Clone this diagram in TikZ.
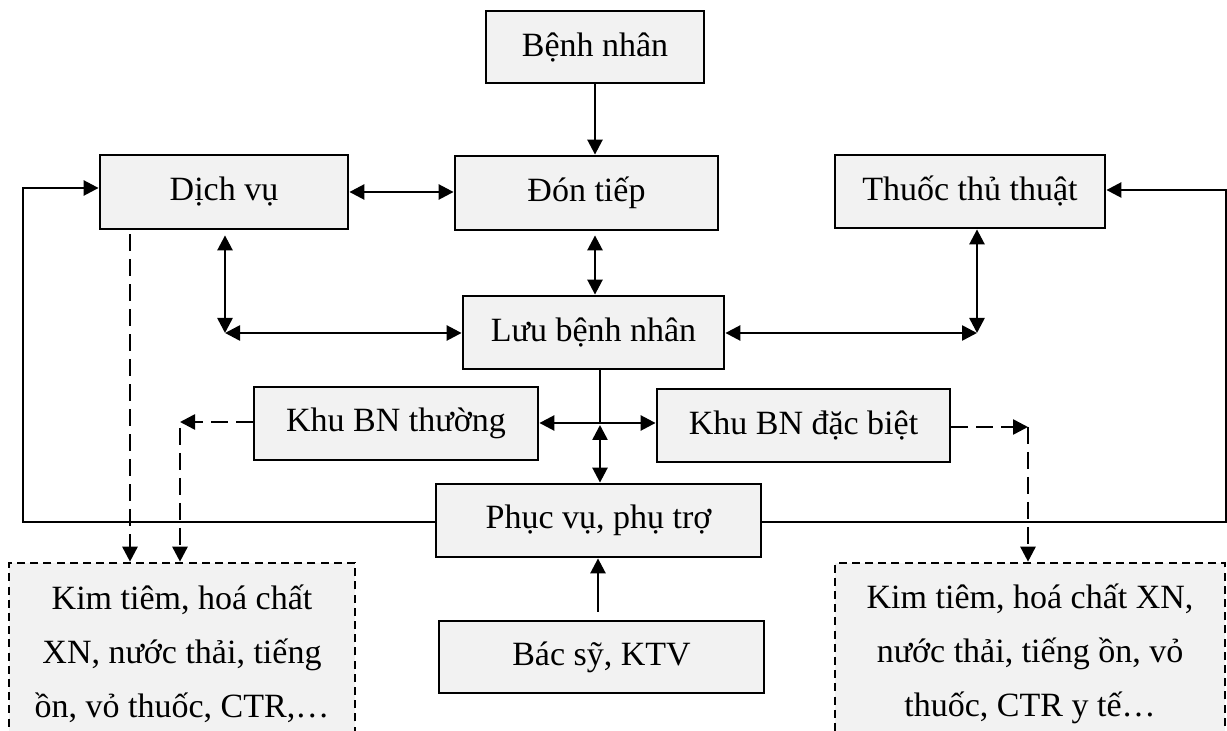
\documentclass[tikz,border=0pt]{standalone}
\usepackage{fontspec}
\setmainfont{Liberation Serif}
\usetikzlibrary{arrows.meta}
\newcommand\fs{\fontsize{17}{27}\selectfont}
\definecolor{boxgray}{HTML}{F2F2F2}
\tikzset{
  box/.style={draw, line width=1.4pt, fill=boxgray, inner sep=0pt, font=\fs, align=center},
  wastebox/.style={draw, line width=1.3pt, dash pattern=on 4pt off 2.6pt, fill=boxgray, inner sep=0pt, font=\fs, align=center},
  conn/.style={line width=1.3pt},
  arr/.style={conn, -{Triangle[length=7.5pt,width=7.5pt]}},
  darr/.style={conn, {Triangle[length=7.5pt,width=7.5pt]}-{Triangle[length=7.5pt,width=7.5pt]}},
  dsh/.style={dash pattern=on 8.5pt off 4pt}
}
\begin{document}
\begin{tikzpicture}[x=0.5pt,y=-0.5pt]
\useasboundingbox (0,0) rectangle (1227,731);
\clip (0,0) rectangle (1227,731);
\fill[white] (0,0) rectangle (1227,731);
% boxes
\node[box, minimum width=109pt, minimum height=36pt] (bn) at (595,47) {Bệnh nhân};
\node[box, minimum width=131.5pt, minimum height=37pt] (dt) at (586.5,193) {Đón tiếp};
\node[box, minimum width=124pt, minimum height=37pt] (dv) at (224,192) {Dịch vụ};
\node[box, minimum width=135pt, minimum height=36.5pt] (tt) at (970,191.5) {Thuốc thủ thuật};
\node[box, minimum width=130.5pt, minimum height=36.5pt] (luu) at (593.5,332.5) {Lưu bệnh nhân};
\node[box, minimum width=142pt, minimum height=36.5pt] (kt) at (396,423.5) {Khu BN thường};
\node[box, minimum width=146.5pt, minimum height=36.5pt] (kd) at (803.5,425.5) {Khu BN đặc biệt};
\node[box, minimum width=162.5pt, minimum height=36.5pt] (pv) at (598.5,520.5) {Phục vụ, phụ trợ};
\node[box, minimum width=162.5pt, minimum height=36pt] (bs) at (601.5,657) {Bác sỹ, KTV};
\node[wastebox, minimum width=173pt, minimum height=91pt] (kl) at (182,654) {Kim tiêm, hoá chất\\XN, nước thải, tiếng\\ồn, vỏ thuốc, CTR,…};
\node[wastebox, minimum width=195pt, minimum height=91pt] (kr) at (1030,654) {Kim tiêm, hoá chất XN,\\nước thải, tiếng ồn, vỏ\\thuốc, CTR y tế…};
% coordinates
\coordinate (lb) at (23,522);
\coordinate (lt) at (23,188);
\coordinate (rb) at (1226,522);
\coordinate (rt) at (1226,190);
\coordinate (cl) at (225,333);
\coordinate (cr) at (977,333);
\coordinate (cx) at (600,423);
\coordinate (dl) at (180,422);
\coordinate (dr) at (1028,427);
% connectors
\draw[arr] (bn.south) -- (bn.south |- dt.north);
\draw[darr] (dv.east) -- (dv.east -| dt.west);
\draw[arr] (pv.west |- lb) -- (lb) -- (lt) -- (dv.west |- lt);
\draw[arr] (pv.east |- rb) -- (rb) -- (rt) -- (tt.east |- rt);
\draw[darr, shorten <=5pt/2] (dv.south -| cl) -- (cl);
\draw[darr] (cl) -- (luu.west |- cl);
\draw[darr] (tt.south -| cr) -- (cr);
\draw[darr] (luu.east |- cr) -- (cr);
\draw[darr, shorten <=2pt] (dt.south -| bn.south) -- (luu.north -| bn.south);
\draw[conn] (luu.south -| cx) -- (cx);
\draw[darr] (kt.east |- cx) -- (kd.west |- cx);
\draw[darr] ([yshift=-1pt]cx) -- (pv.north -| cx);
\draw[arr, shorten <=4pt] (bs.north -| 598,0) -- (pv.south -| 598,0);
\draw[arr, dsh] ([yshift=-2pt]dv.south -| 130,0) -- (kl.north -| 130,0);
\draw[arr, dsh] (kt.west |- dl) -- (dl);
\draw[arr, dsh] ([yshift=-3pt]dl) -- (kl.north -| dl);
\draw[arr, dsh] (kd.east |- dr) -- (dr);
\draw[arr, dsh] (dr) -- (kr.north -| dr);
\end{tikzpicture}
\end{document}
